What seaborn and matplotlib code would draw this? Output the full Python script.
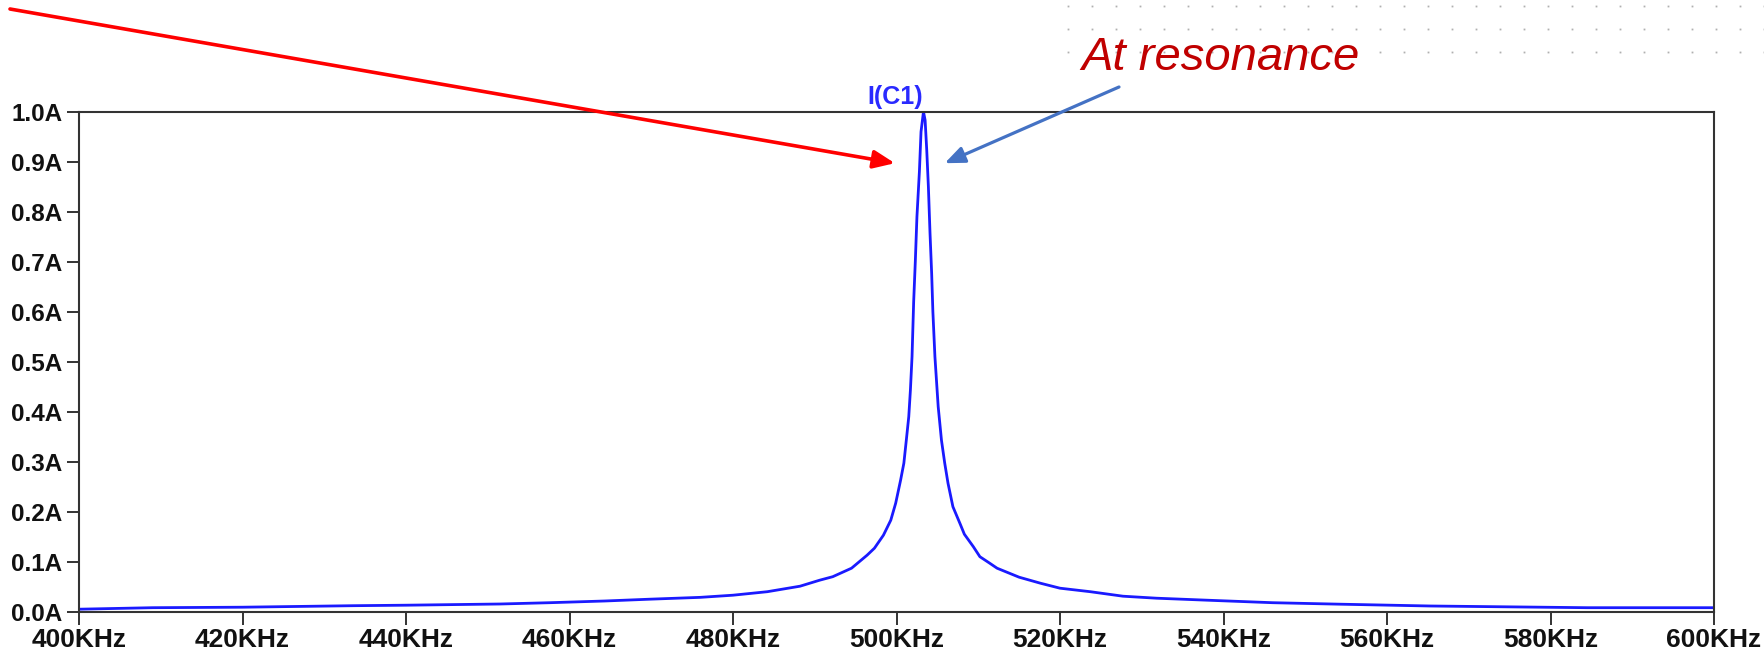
import numpy as np
import pandas as pd
import seaborn as sns
import matplotlib.pyplot as plt
from matplotlib.lines import Line2D


# AC sweep of I(C1) (kHz, A)
freq_khz = [400, 409, 420, 433.5, 440, 451.5, 457.6, 464.3, 469.8, 476, 480, 484.2,
            488.2, 490.6, 492.2, 494.5, 496.4, 497.3, 498.4, 499.3, 499.9, 500.5,
            500.9, 501.2, 501.5, 501.7, 501.9, 502.1, 502.3, 502.5, 502.8, 503.0,
            503.3, 503.5, 503.7, 503.9, 504.1, 504.3, 504.45, 504.7, 505.1, 505.5,
            505.9, 506.3, 506.9, 507.8, 508.3, 509.4, 510.2, 511.4, 512.3, 515.0,
            517.6, 520, 523.7, 527.7, 531.8, 538, 546, 554.3, 565.3, 584.5, 600]
current_a = [0.005, 0.008, 0.009, 0.012, 0.013, 0.0154, 0.018, 0.0214, 0.025, 0.0287, 0.033, 0.040,
             0.051, 0.063, 0.070, 0.087, 0.113, 0.127, 0.153, 0.183, 0.217, 0.263,
             0.297, 0.343, 0.39, 0.443, 0.51, 0.62, 0.70, 0.79, 0.88, 0.96,
             1.0, 0.983, 0.923, 0.85, 0.757, 0.677, 0.60, 0.51, 0.41, 0.343,
             0.297, 0.257, 0.21, 0.175, 0.155, 0.13, 0.11, 0.097, 0.087, 0.069,
             0.057, 0.047, 0.040, 0.031, 0.027, 0.023, 0.018, 0.015, 0.0114, 0.008, 0.008]

x_ticks = [400, 420, 440, 460, 480, 500, 520, 540, 560, 580, 600]
x_labels = ["400KHz", "420KHz", "440KHz", "460KHz", "480KHz", "500KHz",
            "520KHz", "540KHz", "560KHz", "580KHz", "600KHz"]
y_ticks = [0.0, 0.1, 0.2, 0.3, 0.4, 0.5, 0.6, 0.7, 0.8, 0.9, 1.0]
y_labels = ["0.0A", "0.1A", "0.2A", "0.3A", "0.4A", "0.5A",
            "0.6A", "0.7A", "0.8A", "0.9A", "1.0A"]

trace_name = "I(C1)"
note_text = "At resonance"

df = pd.DataFrame({"freq": freq_khz, "current": current_a})

sns.set_style("white")
plt.rcParams['font.family'] = ['Liberation Sans', 'DejaVu Sans']

W, H = 1765, 652
fig = plt.figure(figsize=(W / 100, H / 100), dpi=100)
ax = fig.add_axes([79 / W, 1 - 611.7 / H, (1714 - 79) / W, (611.7 - 111.7) / H])

sns.lineplot(data=df, x="freq", y="current", ax=ax, color="#1a1aff", lw=2.0)

ax.set_xlim(400, 600)
ax.set_ylim(0, 1.0)
ax.set_xticks(x_ticks)
ax.set_xticklabels(x_labels, fontsize=19, fontweight="bold", color="#111111")
ax.set_yticks(y_ticks)
ax.set_yticklabels(y_labels, fontsize=17.5, fontweight="bold", color="#111111")
ax.set_xlabel("")
ax.set_ylabel("")
ax.tick_params(axis="both", direction="out", length=9, width=1.4, color="#333333", pad=3,
               bottom=True, left=True)
for sp in ax.spines.values():
    sp.set_visible(True)
    sp.set_color("#333333")
    sp.set_linewidth(1.5)

# trace name above the peak
ax.text(499.8, 1.006, trace_name, color="#2a2aff", fontsize=18, fontweight="bold",
        ha="center", va="bottom", transform=ax.transData, clip_on=False)

# arrows pointing at the resonance peak
ax.annotate("", xy=(499.8, 0.897), xycoords="data",
            xytext=(10 / W, 1 - 9 / H), textcoords="figure fraction",
            arrowprops=dict(arrowstyle="-|>,head_length=1.3,head_width=0.55",
                            color="#ff0000", lw=2.6, shrinkA=0, shrinkB=0),
            annotation_clip=False)
ax.annotate("", xy=(505.9, 0.897), xycoords="data",
            xytext=(1119 / W, 1 - 87 / H), textcoords="figure fraction",
            arrowprops=dict(arrowstyle="-|>,head_length=1.2,head_width=0.5",
                            color="#4472c4", lw=2.3, shrinkA=0, shrinkB=0),
            annotation_clip=False)

fig.text(1081 / W, 1 - 70 / H, note_text, color="#c00000", fontsize=34,
         fontstyle="italic", ha="left", va="baseline")

# faint dotted slide background, top right
dot_x = np.arange(1068, W, 24) / W
for row_y in (6, 29, 52):
    fig.add_artist(Line2D(dot_x, [1 - row_y / H] * len(dot_x), ls="none", marker="s",
                          ms=1.3, mew=0, color="#b0b0b0", transform=fig.transFigure))

fig.savefig("out.png", dpi=100)
